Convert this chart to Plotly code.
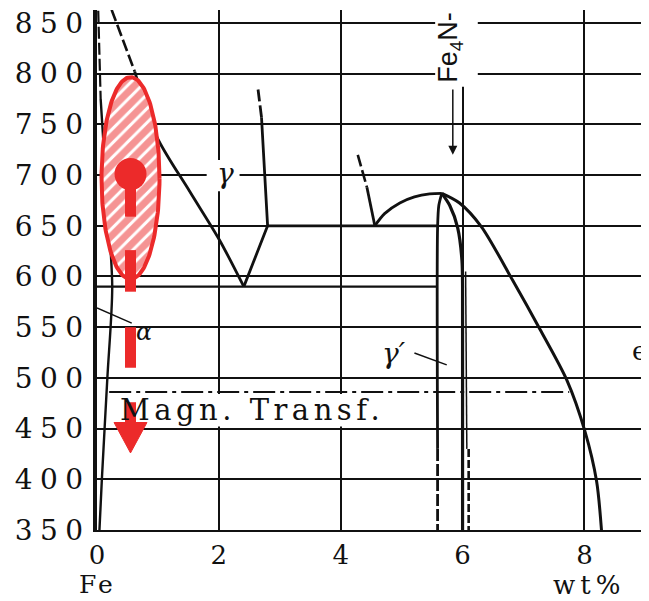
import numpy as np
import plotly.graph_objects as go

# ---------------- data (wt% N, temperature in °C) ----------------
y_ticks = [350, 400, 450, 500, 550, 600, 650, 700, 750, 800, 850]
x_ticks = [0, 2, 4, 6, 8]

alpha_dash_x = [0.02, 0.06]
alpha_dash_y = [862, 775]
alpha_x = [0.06, 0.16, 0.25, 0.17, 0.08, 0.04]
alpha_y = [775, 680, 590, 500, 400, 350]

gamma_dash_x = [0.24, 0.62]
gamma_dash_y = [863, 802]
gamma_x = [0.62, 0.98, 1.52, 2.01, 2.41]
gamma_y = [802, 738, 684, 636, 590]

eutectoid_x = [0.0, 5.59]
eutectoid_y = [590, 590]

gp_gamma_x = [2.41, 2.80, 2.70]
gp_gamma_y = [590, 650, 757]
gp_gamma_dash_x = [2.70, 2.64]
gp_gamma_dash_y = [757, 786]

peritectoid_x = [2.80, 5.59]
peritectoid_y = [650, 650]

eps_dash_x = [4.28, 4.43]
eps_dash_y = [720, 688]
eps_arc_x = [4.43, 4.56]
eps_arc_y = [688, 650]
eps_top_x = [4.56, 4.72, 4.97, 5.21, 5.46, 5.66]
eps_top_y = [650, 662, 672.5, 678.5, 681.5, 682]

gp_left_x = [5.66, 5.61, 5.59, 5.59]
gp_left_y = [682, 670, 648, 430]
gp_left_dash_x = [5.59, 5.59]
gp_left_dash_y = [430, 350]

gp_right_x = [5.66, 5.79, 5.92, 5.99, 6.0, 6.0]
gp_right_y = [682, 670, 648, 616, 590, 350]
gp_right2_x = [6.05, 6.07]
gp_right2_y = [605, 430]
gp_right2_dash_x = [6.10, 6.10]
gp_right2_dash_y = [430, 350]

eps_x = [5.66, 5.95, 6.31, 6.82, 7.27, 7.71, 8.01, 8.20, 8.28]
eps_y = [682, 672.5, 649, 596.5, 548, 498, 447, 398, 350]

magn_x = [0.2, 7.75]
magn_y = [486, 486]

alpha_leader_x = [0.0, 0.57]
alpha_leader_y = [569, 554]
gp_leader_x = [5.21, 5.74]
gp_leader_y = [524.6, 512.8]

# red overlay (in wt% / °C)
ell_cx, ell_cy, ell_rx, ell_ry = 0.55, 697, 0.476, 99.6
dot_x, dot_y = 0.55, 701
arrow_segments = [(701, 659), (626, 585), (550, 510), (476, 454)]
head_base, head_tip, head_half = 456, 426, 0.27

RED = "#ec2a2a"
BLK = "#111111"
SERIF = "DejaVu Serif"

fig = go.Figure()


def line(x, y, width=2.8, dash="solid", smooth=False, color=BLK):
    ln = dict(color=color, width=width, dash=dash)
    if smooth:
        ln.update(shape="spline", smoothing=0.8)
    fig.add_trace(go.Scatter(x=x, y=y, mode="lines", hoverinfo="skip", line=ln))


DASH = "12px,4px"
line(alpha_dash_x, alpha_dash_y, 2.2, DASH)
line(alpha_x, alpha_y, 2.4, smooth=True)
line(gamma_dash_x, gamma_dash_y, 2.6, DASH)
line(gamma_x, gamma_y, 2.8, smooth=True)
line(eutectoid_x, eutectoid_y, 2.4)
line(gp_gamma_x, gp_gamma_y, 2.8)
line(gp_gamma_dash_x, gp_gamma_dash_y, 2.8, DASH)
line(peritectoid_x, peritectoid_y, 2.8)
line(eps_dash_x, eps_dash_y, 2.6, DASH)
line(eps_arc_x, eps_arc_y, 2.8)
line(eps_top_x, eps_top_y, 2.8, smooth=True)
line(gp_left_x, gp_left_y, 2.8, smooth=True)
line(gp_left_dash_x, gp_left_dash_y, 2.8, "12px,3px")
line(gp_right_x, gp_right_y, 3.2, smooth=True)
line(gp_right2_x, gp_right2_y, 1.5)
line(gp_right2_dash_x, gp_right2_dash_y, 2.6, "8px,3px")
line(eps_x, eps_y, 3.0, smooth=True)
line(magn_x, magn_y, 2.0, "22px,5px,4px,5px")
line(alpha_leader_x, alpha_leader_y, 1.5)
line(gp_leader_x, gp_leader_y, 1.5)

# hatched ellipse
t = np.linspace(0, 2 * np.pi, 200)
fig.add_trace(go.Scatter(
    x=ell_cx + ell_rx * np.cos(t), y=ell_cy + ell_ry * np.sin(t),
    mode="lines", fill="toself", hoverinfo="skip",
    fillcolor="white",
    fillpattern=dict(shape="/", fgcolor=RED, bgcolor="white", size=10, solidity=0.7),
    line=dict(color=RED, width=4)))

# red dashed arrow
sx, sy = [], []
for a, b in arrow_segments:
    sx += [dot_x, dot_x, None]
    sy += [a, b, None]
fig.add_trace(go.Scatter(x=sx, y=sy, mode="lines", hoverinfo="skip",
                         line=dict(color=RED, width=11)))
fig.add_trace(go.Scatter(x=[dot_x - head_half, dot_x + head_half, dot_x, dot_x - head_half],
                         y=[head_base, head_base, head_tip, head_base],
                         mode="lines", fill="toself", fillcolor=RED, hoverinfo="skip",
                         line=dict(color=RED, width=1)))
fig.add_trace(go.Scatter(x=[dot_x], y=[dot_y], mode="markers", hoverinfo="skip",
                         marker=dict(color=RED, size=32, line=dict(width=0))))

# white label backgrounds that hide the grid (between grid and traces)
shapes = [
    dict(type="rect", xref="x", yref="y", x0=1.80, x1=2.34, y0=684, y1=715,
         fillcolor="white", line=dict(width=0), layer="between"),
    dict(type="rect", xref="x", yref="y", x0=0.29, x1=4.88, y0=452, y1=484,
         fillcolor="white", line=dict(width=0), layer="between"),
    dict(type="rect", xref="x", yref="y", x0=5.55, x1=6.25, y0=787, y1=863,
         fillcolor="white", line=dict(width=0), layer="between"),
]

ls = 'letter-spacing:7.5px'
fig.update_layout(
    width=641, height=593,
    margin=dict(l=89, r=0, t=2, b=71),
    paper_bgcolor="white", plot_bgcolor="white",
    showlegend=False,
    shapes=shapes,
    xaxis=dict(range=[0, 9.06], tickmode="array", tickvals=x_ticks,
               ticktext=[str(v) for v in x_ticks],
               showgrid=True, gridcolor=BLK, gridwidth=1.8, zeroline=False,
               showline=True, linecolor=BLK, linewidth=2, ticks="",
               ticklabelstandoff=1, ticklabeloverflow="allow",
               tickfont=dict(family=SERIF, size=26, color=BLK)),
    yaxis=dict(range=[350, 862.8], tickmode="array", tickvals=y_ticks,
               ticktext=[f'<span style="{ls}">{v}</span>' for v in y_ticks],
               showgrid=True, gridcolor=BLK, gridwidth=1.8, zeroline=False,
               showline=True, linecolor=BLK, linewidth=3.5, ticks="",
               ticklabelstandoff=-3, ticklabeloverflow="allow",
               tickfont=dict(family=SERIF, size=28, color=BLK)),
)

ann = []
ann.append(dict(x=2.11, y=702, text="<i>γ</i>", showarrow=False,
                font=dict(family=SERIF, size=28, color=BLK)))
ann.append(dict(x=0.77, y=545, text="<i>α</i>", showarrow=False,
                font=dict(family=SERIF, size=24, color=BLK)))
ann.append(dict(x=4.87, y=524, text="<i>γ′</i>", showarrow=False,
                font=dict(family=SERIF, size=28, color=BLK)))
ann.append(dict(x=9.06, y=527, text="ϵ", showarrow=False, xanchor="right",
                font=dict(family=SERIF, size=26, color=BLK)))
ann.append(dict(x=0.34, y=468, xanchor="left", showarrow=False,
                text='<span style="letter-spacing:4.5px">Magn. Transf.</span>',
                font=dict(family=SERIF, size=29, color=BLK)))
ann.append(dict(x=5.8, y=826, text="Fe<sub>4</sub>N-", textangle=-90, showarrow=False,
                font=dict(family="Liberation Sans", size=27, color=BLK)))
ann.append(dict(x=5.84, y=720, ax=5.84, ay=786, axref="x", ayref="y", text="",
                showarrow=True, arrowhead=2, arrowsize=1.2, arrowwidth=1.5,
                arrowcolor=BLK))
ann.append(dict(x=0, xref="x", y=-0.104, yref="paper", yanchor="middle",
                text='<span style="letter-spacing:3px">Fe</span>',
                showarrow=False, font=dict(family=SERIF, size=25, color=BLK)))
ann.append(dict(x=8.07, xref="x", y=-0.106, yref="paper", yanchor="middle",
                text='<span style="letter-spacing:5px">wt%</span>',
                showarrow=False, font=dict(family=SERIF, size=26, color=BLK)))
fig.update_layout(annotations=ann)

fig.write_html("out.html")
